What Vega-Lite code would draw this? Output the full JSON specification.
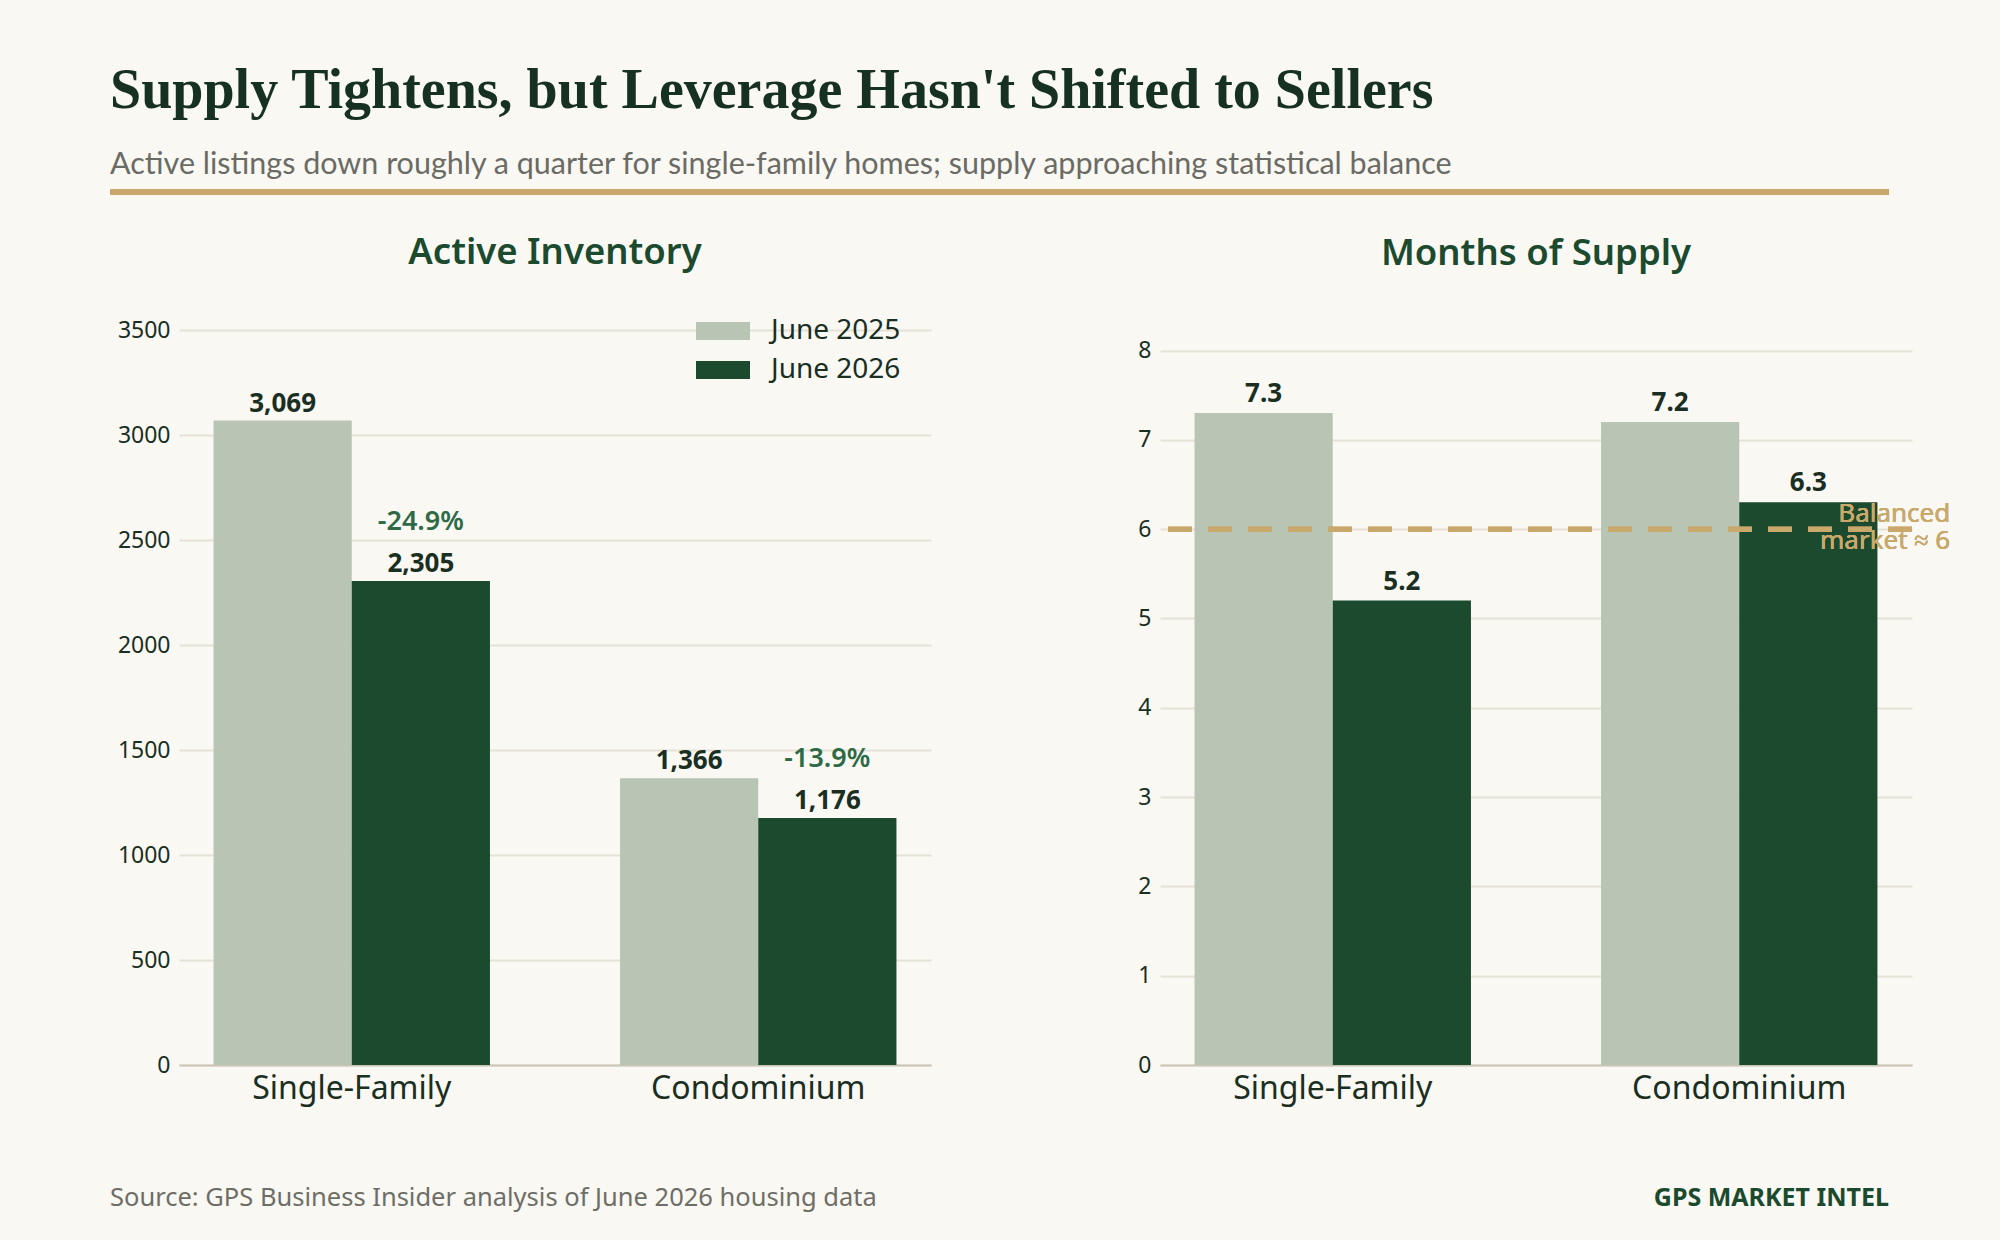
{
  "$schema": "https://vega.github.io/schema/vega-lite/v6.json",
  "background": "#f9f8f3",
  "padding": {"left": 110, "top": 62, "right": 52, "bottom": 0},
  "title": {
    "text": "Supply Tightens, but Leverage Hasn't Shifted to Sellers",
    "subtitle": "Active listings down roughly a quarter for single-family homes; supply approaching statistical balance",
    "anchor": "start",
    "frame": "bounds",
    "baseline": "top",
    "font": "Liberation Serif",
    "fontSize": 56,
    "fontWeight": "bold",
    "color": "#163021",
    "subtitleFont": "Lato",
    "subtitleFontSize": 30.5,
    "subtitleColor": "#6b6b66",
    "subtitlePadding": 30,
    "offset": 8
  },
  "config": {
    "view": {"stroke": null},
    "font": "Noto Sans",
    "axis": {
      "labelFont": "Noto Sans",
      "labelColor": "#1a2e22",
      "ticks": false,
      "gridColor": "#e6e1d6",
      "gridWidth": 2,
      "domainColor": "#ccc5b5",
      "domainWidth": 2,
      "labelLimit": 500
    },
    "axisX": {"grid": false, "labelFontSize": 32, "labelPadding": 8, "labelAngle": 0},
    "axisY": {"domain": false, "labelFontSize": 23, "labelPadding": 9, "format": "d"}
  },
  "spacing": 39,
  "vconcat": [
    {
      "width": 1710,
      "height": 6,
      "data": {"values": [{"start": 0, "end": 1}]},
      "mark": {"type": "rect", "color": "#c9a96b"},
      "encoding": {
        "x": {"field": "start", "type": "quantitative", "scale": {"domain": [0, 1], "range": [-69, 1710]}, "axis": null},
        "x2": {"field": "end"}
      }
    },
    {
      "spacing": 206,
      "resolve": {"legend": {"color": "independent"}},
      "hconcat": [
        {
          "width": 752,
          "height": 735,
          "title": {"text": "Active Inventory", "font": "Noto Sans", "fontSize": 36.5, "fontWeight": 600, "color": "#1b4a2e", "anchor": "middle", "baseline": "alphabetic", "offset": 13},
          "data": {"values": [
            {"type": "Single-Family", "period": "June 2025", "listings": 3069, "change": null},
            {"type": "Single-Family", "period": "June 2026", "listings": 2305, "change": "-24.9%"},
            {"type": "Condominium", "period": "June 2025", "listings": 1366, "change": null},
            {"type": "Condominium", "period": "June 2026", "listings": 1176, "change": "-13.9%"}
          ]},
          "encoding": {
            "x": {"field": "type", "type": "nominal", "sort": ["Single-Family", "Condominium"], "scale": {"paddingInner": 0.32, "paddingOuter": 0.085}, "title": null},
            "xOffset": {"field": "period", "type": "nominal", "sort": ["June 2025", "June 2026"], "scale": {"paddingInner": 0, "paddingOuter": 0}},
            "y": {"field": "listings", "type": "quantitative", "scale": {"domain": [0, 3500], "nice": false}, "axis": {"values": [0, 500, 1000, 1500, 2000, 2500, 3000, 3500]}, "title": null}
          },
          "layer": [
            {
              "mark": {"type": "bar"},
              "encoding": {
                "color": {
                  "field": "period", "type": "nominal",
                  "scale": {"domain": ["June 2025", "June 2026"], "range": ["#b9c5b4", "#1b4a2e"]},
                  "legend": {
                    "title": null, "orient": "none", "legendX": 526, "legendY": -17,
                    "symbolType": "M-1.5,-0.5H1.5V0.5H-1.5Z", "symbolSize": 1296, "symbolStrokeWidth": 0,
                    "labelFont": "Noto Sans", "labelFontSize": 28, "labelColor": "#1a2e22", "labelOffset": 30,
                    "rowPadding": 7, "padding": 0
                  }
                }
              }
            },
            {
              "mark": {"type": "text", "baseline": "alphabetic", "dy": -9, "font": "Noto Sans", "fontSize": 26, "fontWeight": "bold", "color": "#1a2e22"},
              "encoding": {"text": {"field": "listings", "type": "quantitative", "format": ","}}
            },
            {
              "transform": [{"filter": "datum.change != null"}],
              "mark": {"type": "text", "baseline": "alphabetic", "dy": -51, "font": "Noto Sans", "fontSize": 27, "fontWeight": 600, "color": "#2d6a45"},
              "encoding": {"text": {"field": "change", "type": "nominal"}}
            }
          ]
        },
        {
          "width": 752,
          "height": 735,
          "title": {"text": "Months of Supply", "font": "Noto Sans", "fontSize": 36.5, "fontWeight": 600, "color": "#1b4a2e", "anchor": "middle", "baseline": "alphabetic", "offset": 29},
          "data": {"values": [
            {"type": "Single-Family", "period": "June 2025", "months": 7.3},
            {"type": "Single-Family", "period": "June 2026", "months": 5.2},
            {"type": "Condominium", "period": "June 2025", "months": 7.2},
            {"type": "Condominium", "period": "June 2026", "months": 6.3}
          ]},
          "layer": [
            {
              "mark": {"type": "bar"},
              "encoding": {
                "x": {"field": "type", "type": "nominal", "sort": ["Single-Family", "Condominium"], "scale": {"paddingInner": 0.32, "paddingOuter": 0.085}, "title": null},
                "xOffset": {"field": "period", "type": "nominal", "sort": ["June 2025", "June 2026"], "scale": {"paddingInner": 0, "paddingOuter": 0}},
                "y": {"field": "months", "type": "quantitative", "scale": {"domain": [0, 8.23], "nice": false}, "axis": {"values": [0, 1, 2, 3, 4, 5, 6, 7, 8]}, "title": null},
                "color": {
                  "field": "period", "type": "nominal",
                  "scale": {"domain": ["June 2025", "June 2026"], "range": ["#b9c5b4", "#1b4a2e"]},
                  "legend": null
                }
              }
            },
            {
              "mark": {"type": "text", "baseline": "alphabetic", "dy": -11, "font": "Noto Sans", "fontSize": 26, "fontWeight": "bold", "color": "#1a2e22"},
              "encoding": {
                "x": {"field": "type", "type": "nominal", "sort": ["Single-Family", "Condominium"]},
                "xOffset": {"field": "period", "type": "nominal", "sort": ["June 2025", "June 2026"]},
                "y": {"field": "months", "type": "quantitative"},
                "text": {"field": "months", "type": "quantitative", "format": ".1f"}
              }
            },
            {
              "mark": {"type": "rule", "strokeDash": [24, 16], "strokeWidth": 5, "color": "#c9a96b"},
              "encoding": {"y": {"datum": 6, "type": "quantitative"}}
            },
            {
              "mark": {"type": "text", "align": "right", "baseline": "alphabetic", "dy": -7, "dx": 211, "lineBreak": "\n", "lineHeight": 27, "font": "Noto Sans", "fontSize": 26, "color": "#c9a96b"},
              "encoding": {
                "x": {"datum": "Condominium", "type": "nominal"},
                "y": {"datum": 6, "type": "quantitative"},
                "text": {"value": "Balanced\nmarket ≈ 6"}
              }
            }
          ]
        }
      ]
    },
    {
      "width": 1710,
      "height": 110,
      "layer": [
        {
          "data": {"values": [{"note": "Source: GPS Business Insider analysis of June 2026 housing data"}]},
          "mark": {"type": "text", "align": "left", "baseline": "middle", "font": "Noto Sans", "fontSize": 25.5, "color": "#6e6e66"},
          "encoding": {
            "x": {"datum": 0, "type": "quantitative", "scale": {"domain": [0, 1], "range": [-69, 1710]}, "axis": null},
            "text": {"field": "note", "type": "nominal"}
          }
        },
        {
          "data": {"values": [{"brand": "GPS MARKET INTEL"}]},
          "mark": {"type": "text", "align": "right", "baseline": "middle", "font": "Noto Sans", "fontSize": 25, "fontWeight": "bold", "color": "#1b4a2e"},
          "encoding": {
            "x": {"datum": 1, "type": "quantitative"},
            "text": {"field": "brand", "type": "nominal"}
          }
        }
      ]
    }
  ]
}
